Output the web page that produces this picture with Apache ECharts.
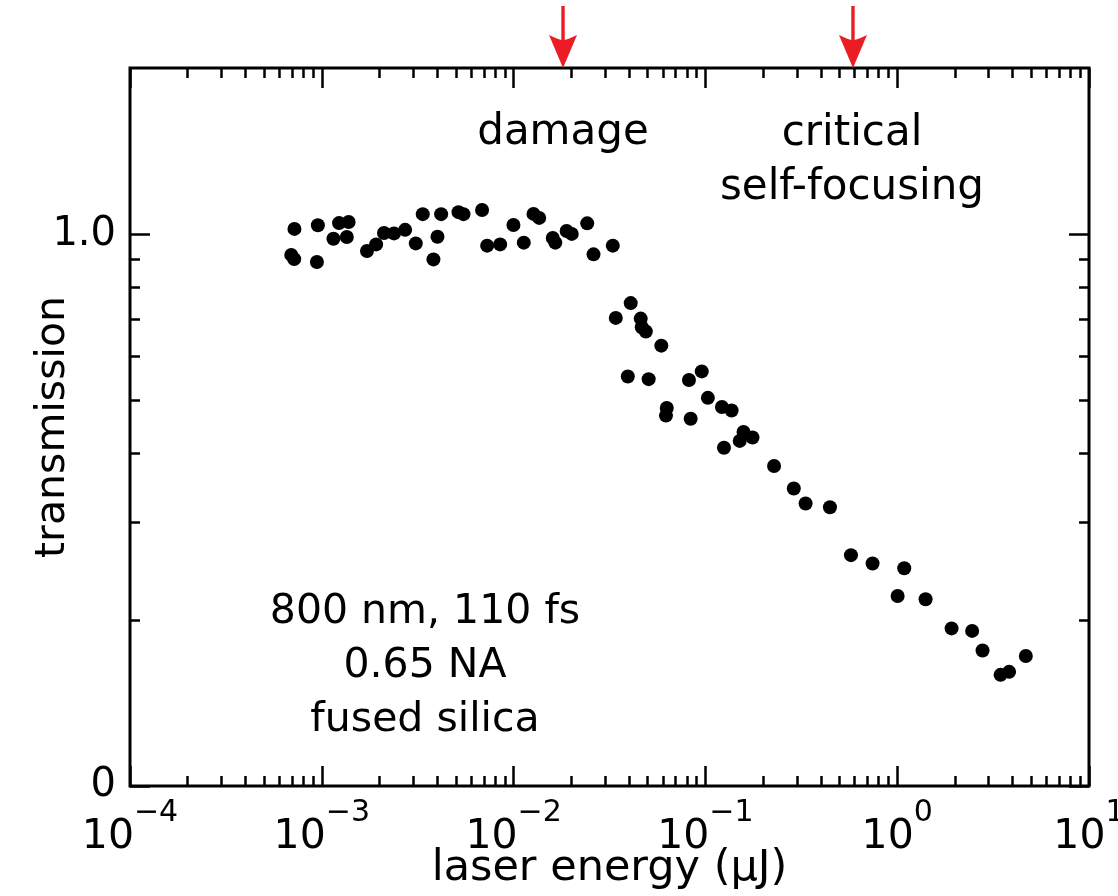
<!DOCTYPE html>
<html>
<head>
<meta charset="utf-8">
<title>transmission vs laser energy</title>
<style>
  html, body { margin: 0; padding: 0; background: #fff; }
  #main { width: 1118px; height: 896px; }
</style>
</head>
<body>
<div id="main"></div>
<script type="text/javascript" src="https://cdn.jsdelivr.net/npm/echarts@6/dist/echarts.min.js"></script>
<script type="text/javascript">
// laser energy (uJ) and transmission
var energy = [
  0.000693, 0.000718, 0.000720, 0.000954, 0.000943, 0.00123, 0.00138, 0.00115, 0.00135, 0.00172,
  0.00192, 0.00211, 0.00238, 0.00272, 0.00309, 0.00336, 0.00419, 0.00401, 0.00382, 0.00516,
  0.00548, 0.00685, 0.00728, 0.00851, 0.00998, 0.0113, 0.0127, 0.0136, 0.0160, 0.0165,
  0.0189, 0.0201, 0.0242, 0.0261, 0.0329, 0.0408, 0.0341, 0.0460, 0.0466, 0.0489,
  0.0589, 0.0394, 0.0506, 0.0821, 0.0957, 0.103, 0.0629, 0.0623, 0.0838, 0.122,
  0.137, 0.158, 0.151, 0.176, 0.125, 0.228, 0.289, 0.333, 0.446, 0.574,
  0.744, 1.088, 1.005, 1.406, 1.921, 2.459, 2.786, 3.458, 3.833, 4.684
];
var trans = [
  0.917, 0.901, 1.022, 1.038, 0.890, 1.047, 1.052, 0.981, 0.988, 0.932,
  0.958, 1.005, 1.003, 1.018, 0.962, 1.087, 1.087, 0.989, 0.900, 1.096,
  1.087, 1.106, 0.953, 0.958, 1.039, 0.965, 1.088, 1.070, 0.984, 0.965,
  1.013, 1.001, 1.046, 0.919, 0.953, 0.750, 0.705, 0.703, 0.678, 0.666,
  0.628, 0.552, 0.546, 0.544, 0.564, 0.505, 0.484, 0.469, 0.463, 0.486,
  0.479, 0.438, 0.422, 0.428, 0.410, 0.380, 0.346, 0.325, 0.320, 0.262,
  0.253, 0.248, 0.221, 0.218, 0.193, 0.191, 0.176, 0.159, 0.161, 0.172
];
// arrow markers at the top: damage threshold and critical self-focusing
var markerEnergy = [0.0181, 0.588];

var xMajor = [1e-4, 1e-3, 1e-2, 1e-1, 1, 10];
var xMinor = [];
[1e-4, 1e-3, 1e-2, 1e-1, 1].forEach(function (d) {
  for (var k = 2; k <= 9; k++) xMinor.push(+(k * d).toPrecision(3));
});
var yMajor = [0.1, 1];
var yMinor = [0.2, 0.3, 0.4, 0.5, 0.6, 0.7, 0.8, 0.9];

var FONT = 'DejaVu Sans';
var myChart = echarts.init(document.getElementById('main'));

function xAx(pos, ticks, len, labels) {
  return {
    type: 'log', logBase: 10, min: 1e-4, max: 10, position: pos,
    axisLine: { show: false, onZero: false },
    axisTick: { show: true, inside: true, length: len, customValues: ticks,
      lineStyle: { color: '#000', width: 2.5 } },
    axisLabel: labels ? {
      show: true, customValues: xMajor, margin: 12,
      formatter: function (v) {
        var e = Math.round(Math.log10(v));
        return '{b|10}{s|' + (e < 0 ? '\u2212' : '') + Math.abs(e) + '}';
      },
      rich: {
        b: { fontFamily: FONT, fontSize: 41, color: '#000', verticalAlign: 'bottom' },
        s: { fontFamily: FONT, fontSize: 30, color: '#000', verticalAlign: 'bottom', padding: [0, 0, 30, 0] }
      }
    } : { show: false },
    splitLine: { show: false },
    minorTick: { show: false }
  };
}
function yAx(pos, ticks, len, labels) {
  return {
    type: 'log', logBase: 10, min: 0.1, max: 2, position: pos,
    axisLine: { show: false, onZero: false },
    axisTick: { show: true, inside: true, length: len, customValues: ticks,
      lineStyle: { color: '#000', width: 2.5 } },
    axisLabel: labels ? {
      show: true, customValues: yMajor, margin: 14,
      fontFamily: FONT, fontSize: 40, color: '#000',
      formatter: function (v) { return Math.abs(v - 1) < 1e-6 ? '1.0' : '0'; }
    } : { show: false },
    splitLine: { show: false },
    minorTick: { show: false }
  };
}

var xBottom = xAx('bottom', xMajor, 20, true);
xBottom.name = 'laser energy (\u03bcJ)';
xBottom.nameLocation = 'middle';
xBottom.nameGap = 61;
xBottom.nameMoveOverlap = false;
xBottom.nameTextStyle = { fontFamily: FONT, fontSize: 43, color: '#000' };

var yLeft = yAx('left', yMajor, 20, true);
yLeft.name = 'transmission';
yLeft.nameLocation = 'middle';
yLeft.nameGap = 56;
yLeft.nameMoveOverlap = false;
yLeft.nameTextStyle = { fontFamily: FONT, fontSize: 41, color: '#000' };

var pts = energy.map(function (e, i) { return [e, trans[i]]; });

var option = {
  animation: false,
  backgroundColor: '#fff',
  grid: { left: 130, right: 29, top: 68, bottom: 110, show: true,
    containLabel: false, outerBoundsMode: 'none',
    borderColor: '#000', borderWidth: 3, backgroundColor: 'transparent' },
  xAxis: [
    xBottom,
    xAx('bottom', xMinor, 10, false),
    xAx('top', xMajor, 20, false),
    xAx('top', xMinor, 10, false)
  ],
  yAxis: [
    yLeft,
    yAx('left', yMinor, 10, false),
    yAx('right', yMajor, 20, false),
    yAx('right', yMinor, 10, false)
  ],
  series: [{
    type: 'scatter',
    xAxisIndex: 0, yAxisIndex: 0,
    symbolSize: 14,
    itemStyle: { color: '#000', opacity: 1 },
    data: pts,
    markPoint: {
      silent: true,
      symbol: 'path://M12.3,0 L15.7,0 L15.7,34 Q20,33 28,29 L14,62 L0,29 Q8,33 12.3,34 Z',
      symbolSize: [28, 62],
      symbolOffset: [0, '-50%'],
      itemStyle: { color: '#ec1c24' },
      label: { show: false },
      data: markerEnergy.map(function (e) { return { coord: [e, 2] }; })
    }
  }],
  graphic: [
    { type: 'text', x: 563, y: 133, style: { text: 'damage', font: '42px "DejaVu Sans"', fill: '#000', textAlign: 'center', textVerticalAlign: 'middle' } },
    { type: 'text', x: 852, y: 134, style: { text: 'critical', font: '42px "DejaVu Sans"', fill: '#000', textAlign: 'center', textVerticalAlign: 'middle' } },
    { type: 'text', x: 852, y: 188, style: { text: 'self-focusing', font: '42px "DejaVu Sans"', fill: '#000', textAlign: 'center', textVerticalAlign: 'middle' } },
    { type: 'text', x: 425, y: 612, style: { text: '800 nm, 110 fs', font: '41px "DejaVu Sans"', fill: '#000', textAlign: 'center', textVerticalAlign: 'middle' } },
    { type: 'text', x: 425, y: 666, style: { text: '0.65 NA', font: '41px "DejaVu Sans"', fill: '#000', textAlign: 'center', textVerticalAlign: 'middle' } },
    { type: 'text', x: 425, y: 720, style: { text: 'fused silica', font: '41px "DejaVu Sans"', fill: '#000', textAlign: 'center', textVerticalAlign: 'middle' } }
  ]
};
myChart.setOption(option);
</script>
</body>
</html>
